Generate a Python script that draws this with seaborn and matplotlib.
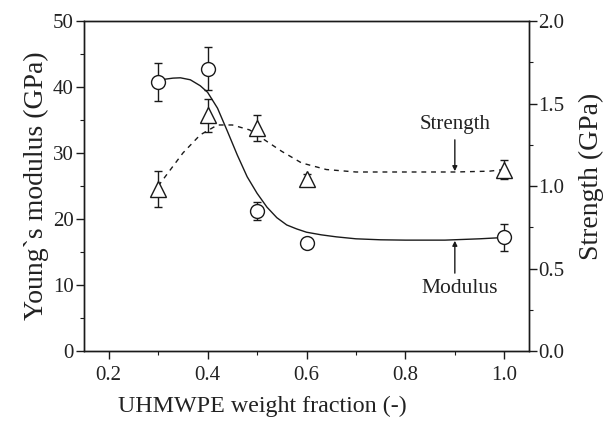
import numpy as np
import pandas as pd
import matplotlib
matplotlib.use("Agg")
import matplotlib.pyplot as plt
import seaborn as sns
from matplotlib.ticker import MultipleLocator

# ---- data ----
frac = [0.3, 0.4, 0.5, 0.6, 1.0]
modulus = [40.8, 42.8, 21.2, 16.3, 17.2]
modulus_err = [2.9, 3.2, 1.4, 0.4, 2.05]
strength = [0.98, 1.43, 1.35, 1.04, 1.10]
strength_err = [0.11, 0.10, 0.08, 0.03, 0.06]

# fitted guide curves
mod_fit_x = [0.30, 0.315, 0.33, 0.345, 0.365, 0.385, 0.40, 0.42, 0.44, 0.46, 0.48,
             0.50, 0.52, 0.54, 0.56, 0.58, 0.60, 0.63, 0.66, 0.70, 0.75, 0.80,
             0.88, 0.95, 1.0]
mod_fit_y = [40.9, 41.2, 41.35, 41.4, 41.1, 40.2, 39.2, 36.8, 33.3, 29.7, 26.4,
             23.9, 21.8, 20.2, 19.1, 18.5, 18.0, 17.6, 17.3, 17.0, 16.85, 16.8,
             16.8, 17.0, 17.2]
str_fit_x = [0.30, 0.32, 0.35, 0.385, 0.42, 0.45, 0.485, 0.52, 0.55, 0.59, 0.64,
             0.70, 0.80, 0.90, 0.97, 1.0]
str_fit_y = [1.00, 1.08, 1.20, 1.31, 1.37, 1.37, 1.34, 1.27, 1.21, 1.14, 1.10,
             1.085, 1.085, 1.085, 1.09, 1.10]

xticks = [0.2, 0.4, 0.6, 0.8, 1.0]
yticks_left = [0, 10, 20, 30, 40, 50]
yticks_right = [0.0, 0.5, 1.0, 1.5, 2.0]

sns.set_theme(style="ticks")
plt.rcParams["font.family"] = ["Liberation Serif", "DejaVu Serif"]

fig = plt.figure(figsize=(6.07, 4.21), dpi=100)
ax = fig.add_axes([0.1384, 0.1663, 0.8715 - 0.1384, 0.950 - 0.1663])
ax2 = ax.twinx()

lc = "#1a1a1a"
tc = "#222222"

df_mod = pd.DataFrame({"x": mod_fit_x, "y": mod_fit_y})
df_str = pd.DataFrame({"x": str_fit_x, "y": str_fit_y})
df_pts = pd.DataFrame({"x": frac, "m": modulus, "me": modulus_err,
                       "s": strength, "se": strength_err})

sns.lineplot(data=df_mod, x="x", y="y", ax=ax, color=lc, lw=1.0, sort=False)
sns.lineplot(data=df_str, x="x", y="y", ax=ax2, color=lc, lw=1.0, sort=False)
ax2.lines[-1].set_dashes([3.5, 3.5])

ax.errorbar(df_pts["x"], df_pts["m"], yerr=df_pts["me"], fmt="none",
            ecolor=lc, elinewidth=1.0, capsize=3, capthick=1.0, zorder=3)
ax.plot(df_pts["x"], df_pts["m"], ls="none", marker="o", ms=10,
        mfc="white", mec=lc, mew=1.0, zorder=4)
ax2.errorbar(df_pts["x"], df_pts["s"], yerr=df_pts["se"], fmt="none",
             ecolor=lc, elinewidth=1.0, capsize=3, capthick=1.0, zorder=3)
ax2.plot(df_pts["x"], df_pts["s"], ls="none", marker="^", ms=11,
         mfc="white", mec=lc, mew=1.0, zorder=4)

ax.set_xlim(0.15, 1.05)
ax.set_ylim(0, 50)
ax2.set_ylim(0, 2.0)
ax.set_xticks(xticks)
ax.set_xticklabels([f"{v:.1f}" for v in xticks])
ax.set_yticks(yticks_left)
ax2.set_yticks(yticks_right)
ax2.set_yticklabels([f"{v:.1f}" for v in yticks_right])
ax.xaxis.set_minor_locator(MultipleLocator(0.1))
ax.yaxis.set_minor_locator(MultipleLocator(5))
ax2.yaxis.set_minor_locator(MultipleLocator(0.25))

for a in (ax, ax2):
    for sp in a.spines.values():
        sp.set_visible(True)
        sp.set_color(lc)
        sp.set_linewidth(1.0)
    a.tick_params(which="major", direction="out", length=5.5, width=1.0,
                  color=lc, labelsize=15, labelcolor=tc, pad=2)
    a.tick_params(which="minor", direction="out", length=3, width=0.8, color=lc)
ax.tick_params(axis="x", which="both", top=False)
ax.tick_params(axis="x", which="major", pad=5)
ax2.tick_params(axis="y", which="major", pad=1)

ax.set_xlabel("UHMWPE weight fraction (-)", fontsize=17.3, color=tc)
ax.xaxis.set_label_coords(0.40, -0.135)
ax.set_ylabel("Young`s modulus (GPa)", fontsize=20, color=tc, labelpad=3)
ax2.set_ylabel("Strength (GPa)", fontsize=20, color=tc)
ax2.yaxis.set_label_coords(1.112, 0.53)

arrow = dict(arrowstyle="-|>", color=lc, lw=1.0, mutation_scale=7,
             shrinkA=0, shrinkB=0)
ax2.text(0.9, 1.37, "Strength", ha="center", va="center", fontsize=15, color=tc)
ax2.annotate("", xy=(0.9, 1.09), xytext=(0.9, 1.28), arrowprops=arrow)
ax.text(0.91, 9.5, "Modulus", ha="center", va="center", fontsize=15.5, color=tc)
ax.annotate("", xy=(0.9, 16.7), xytext=(0.9, 11.8), arrowprops=arrow)

fig.savefig("out.png", dpi=100)
